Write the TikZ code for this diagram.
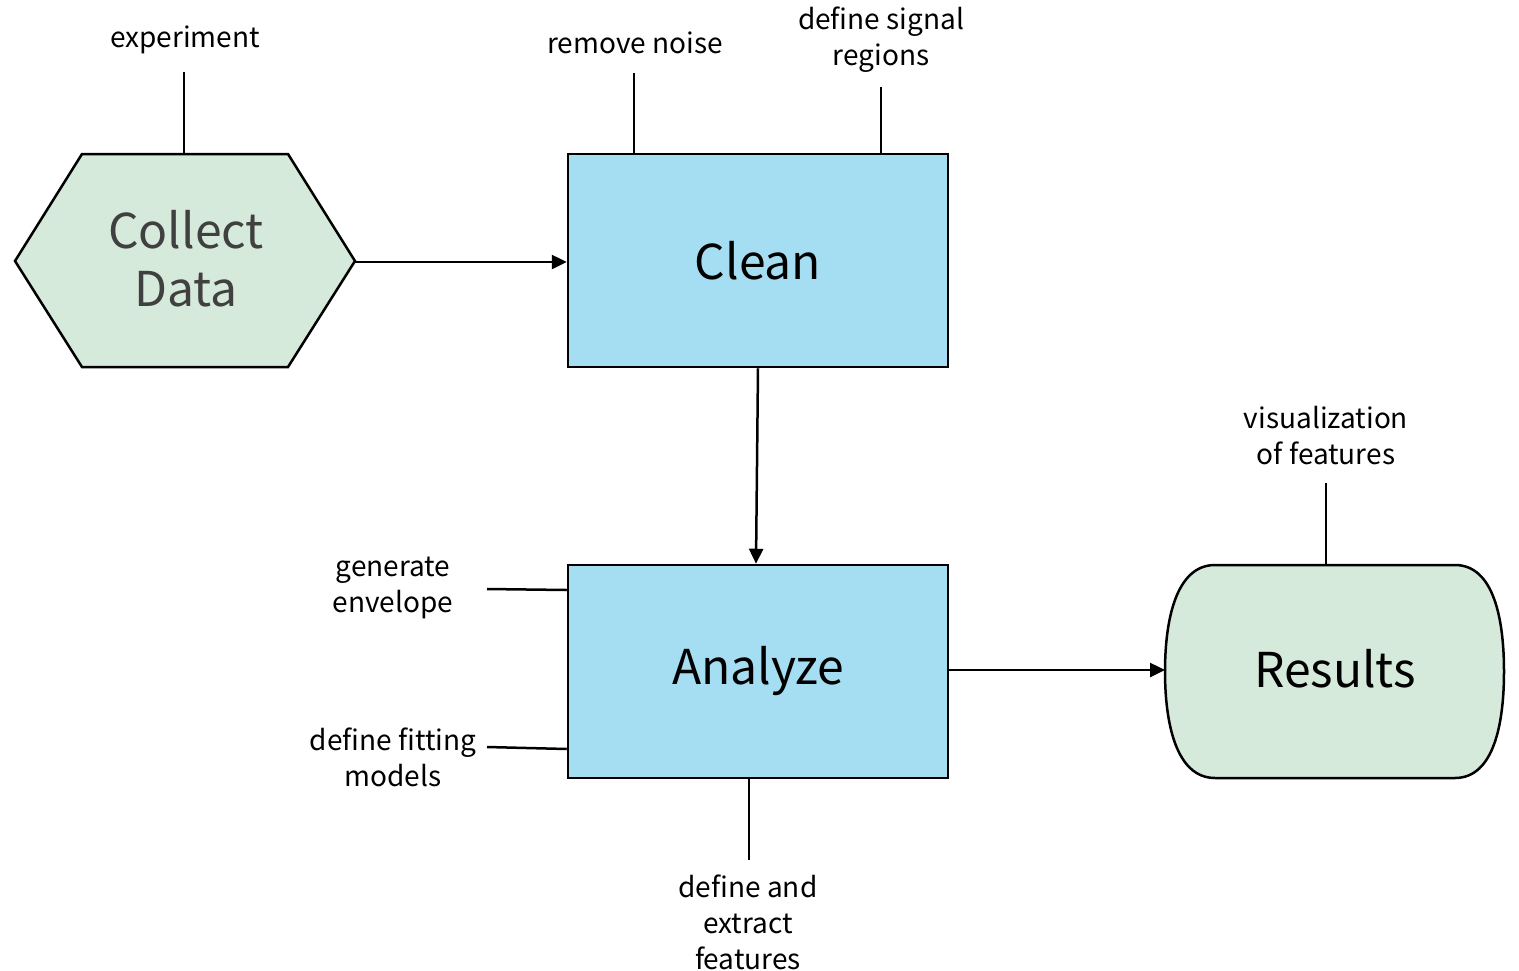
\documentclass[tikz,border=0pt]{standalone}
\usepackage{fontspec}
\setmainfont{Noto Sans CJK JP}
\usetikzlibrary{arrows.meta}
\definecolor{procblue}{HTML}{A5DDF2}
\definecolor{termgreen}{HTML}{D5EADB}
\definecolor{graytext}{HTML}{404040}
\begin{document}
\begin{tikzpicture}[x=1pt,y=-1pt,
  lbl/.style={font=\fontsize{28}{36}\selectfont, align=center, inner sep=0pt, text=black},
  proc/.style={draw, line width=2.5pt, fill=procblue, minimum width=380pt, minimum height=213pt, inner sep=0pt, font=\fontsize{48}{58}\selectfont},
  bigtxt/.style={font=\fontsize{48}{58}\selectfont, align=center, inner sep=0pt},
  shapeline/.style={draw, line width=2.5pt, fill=termgreen, line join=miter},
  link/.style={line width=2.5pt},
  arr/.style={link, -{Triangle[length=15pt,width=14pt]}}]
\useasboundingbox (0,0) rectangle (1519,970);

% Collect Data hexagon
\draw[shapeline] (15,261) -- (82,154) -- (288,154) -- (355,261) -- (288,367) -- (82,367) -- cycle;
\coordinate (hextop) at (184,154);
\coordinate (hexright) at (355,262);
\node[bigtxt, text=graytext] (collect) at (186,259) {Collect\\Data};

% Process boxes
\node[proc] (clean) at (758,260.5) {Clean};
\node[proc] (analyze) at (758,671.5) {Analyze};

% Results terminator
\draw[shapeline] (1215,565) -- (1455,565)
  .. controls (1494,565) and (1504,620) .. (1504,671.5)
  .. controls (1504,723) and (1494,778) .. (1455,778)
  -- (1215,778)
  .. controls (1176,778) and (1165,723) .. (1165,671.5)
  .. controls (1165,620) and (1176,565) .. (1215,565) -- cycle;
\coordinate (restop) at (1326,565);
\coordinate (resleft) at (1165,670);
\node[bigtxt] (results) at (1335,669) {Results};

% Labels
\node[lbl] (experiment) at (185,40) {experiment};
\node[lbl] (noise) at (635,43) {remove noise};
\node[lbl] (signal) at (881,40) {define signal\\regions};
\node[lbl] (envelope) at (393,588) {generate\\envelope};
\node[lbl] (fitting) at (393,757) {define fitting\\models};
\node[lbl] (features) at (748,922) {define and\\extract\\features};
\node[lbl] (visual) at (1326,436) {visualization\\of features};

% Free ends of label lines
\coordinate (experimentend) at (184,72);
\coordinate (noiseend) at (634,73);
\coordinate (signalend) at (881,87);
\coordinate (envelopeend) at (487,589);
\coordinate (fittingend) at (487,747);
\coordinate (featuresend) at (749,860);
\coordinate (visualend) at (1326,483);

\draw[link] (experimentend) -- (hextop);
\draw[link] (noiseend) -- (noiseend |- clean.north);
\draw[link] (signalend) -- (signalend |- clean.north);
\draw[link] (envelopeend) -- ([yshift=-1pt]envelopeend -| analyze.west);
\draw[link] (fittingend) -- ([yshift=-2pt]fittingend -| analyze.west);
\draw[link] (featuresend) -- (featuresend |- analyze.south);
\draw[link] (visualend) -- (restop);

% Flow arrows
\draw[arr] (hexright) -- (hexright -| clean.west);
\draw[arr] (clean.south) -- ([xshift=-2pt]analyze.north);
\draw[arr] (analyze.east |- resleft) -- (resleft);
\end{tikzpicture}
\end{document}
